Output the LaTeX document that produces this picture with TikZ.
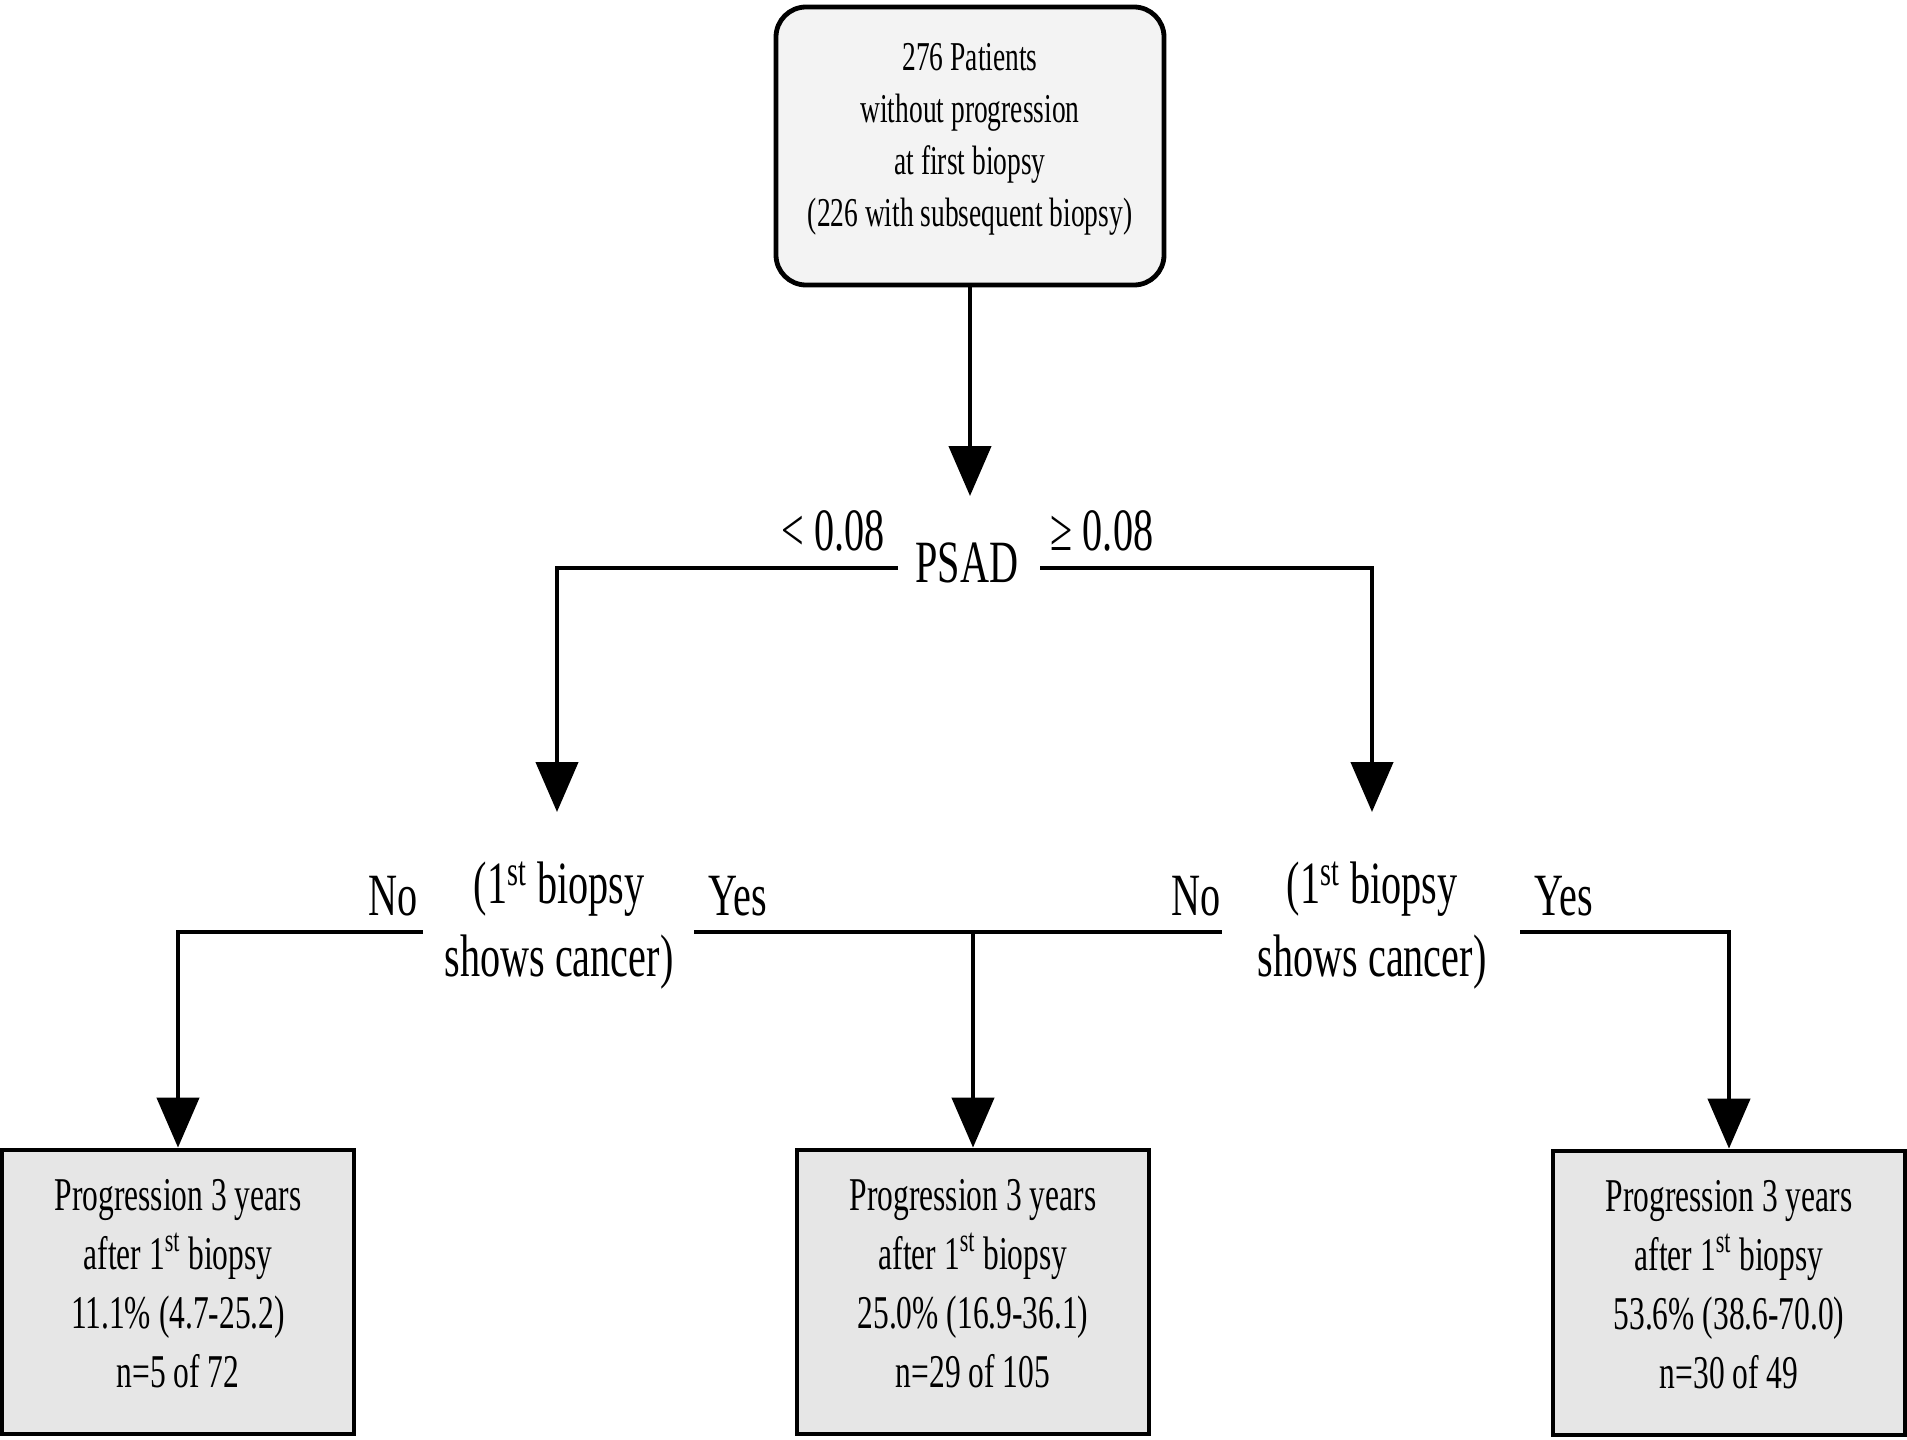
\documentclass[tikz,border=0pt]{standalone}
\usepackage{fontspec}
\setmainfont{Liberation Serif}[FakeStretch=0.67]
\usetikzlibrary{arrows.meta}
\definecolor{boxgray}{HTML}{E6E6E6}
\definecolor{topgray}{HTML}{F3F3F3}
\begin{document}
\begin{tikzpicture}  % ------ Arbre PSAD / premiere biopsie --------
      [x=0.5pt,y=-0.5pt,
       fleche/.style={line width=2.2pt,-{Triangle[length=25pt,width=21pt]}},
       trait/.style={line width=2.2pt},
       boite/.style={draw,line width=2.4pt,fill=boxgray,minimum width=176pt,
                     minimum height=142pt,align=center,
                     font=\fontsize{23.5}{29.5}\selectfont,
                     execute at end node=\rule[-8.5pt]{0pt}{0pt}},
       etiq/.style={font=\fontsize{30}{36.5}\selectfont,align=center,inner sep=0pt}]
    \useasboundingbox (0,0) rectangle (1907,1440);
    \node[draw,line width=2.4pt,rounded corners=15pt,fill=topgray,
          minimum width=194pt,minimum height=139pt,align=center,
          font=\fontsize{20.5}{26}\selectfont] (racine) at (970,146)
          {276 Patients\\without progression\\at first biopsy\\(226 with subsequent biopsy)\rule[-11.5pt]{0pt}{0pt}};
    % premier test
    \node[etiq] (psad) at (967,563) {PSAD};
    \node[etiq] (inf) at (833,531) {< 0.08};
    \node[etiq] (sup) at (1102,531) {≥ 0.08};
    \coordinate (Tpsad) at (970,496);
    \coordinate (Gpsad) at (898,568);
    \coordinate (Dpsad) at (1040,568);
    \coordinate (Tq1) at (557,812);
    \coordinate (Tq2) at (1372,812);
    \draw[fleche] (racine) -- (Tpsad);
    \draw[fleche] (Gpsad) -| (Tq1);
    \draw[fleche] (Dpsad) -| (Tq2);
    % second test
    \node[etiq] (q1) at (559,926) {(1\textsuperscript{st} biopsy\\shows cancer)};
    \node[etiq] (q2) at (1372,926) {(1\textsuperscript{st} biopsy\\shows cancer)};
    \node[etiq] (non1) at (393,896) {No};
    \node[etiq] (oui1) at (738,896) {Yes};
    \node[etiq] (non2) at (1196,896) {No};
    \node[etiq] (oui2) at (1564,896) {Yes};
    \coordinate (A1) at (423,932);
    \coordinate (A2) at (694,932);
    \coordinate (A3) at (1222,932);
    \coordinate (A4) at (1520,932);
    \coordinate (J) at (973,932);
    % resultats
    \node[boite] (res1) at (178,1292) {Progression 3 years\\after 1\textsuperscript{st} biopsy\\11.1\% (4.7-25.2)\\n=5 of 72};
    \node[boite] (res2) at (973,1292) {Progression 3 years\\after 1\textsuperscript{st} biopsy\\25.0\% (16.9-36.1)\\n=29 of 105};
    \node[boite] (res3) at (1729,1293) {Progression 3 years\\after 1\textsuperscript{st} biopsy\\53.6\% (38.6-70.0)\\n=30 of 49};
    \draw[fleche] (A1) -| (res1.north);
    \draw[trait] (A2) -- (A3);
    \draw[fleche] (J) -- (res2.north);
    \draw[fleche] (A4) -| (res3.north);
\end{tikzpicture}
\end{document}
